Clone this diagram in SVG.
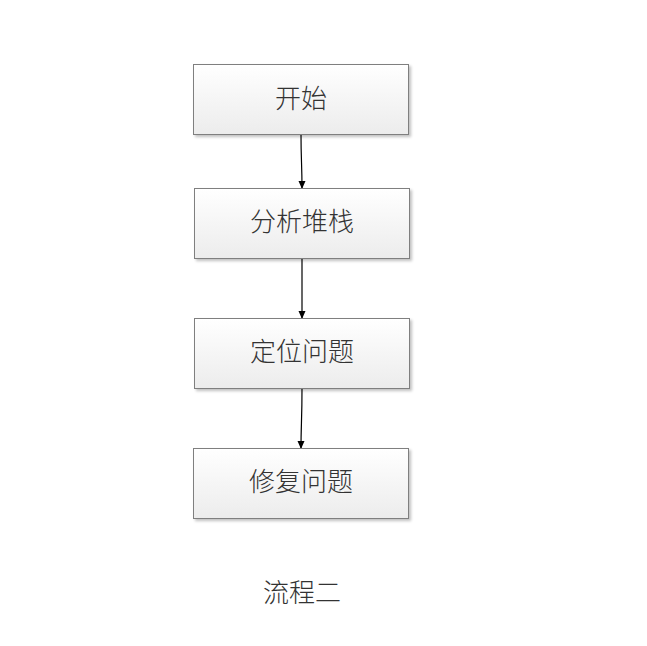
<svg xmlns="http://www.w3.org/2000/svg" width="647" height="646" viewBox="0 0 647 646">
<defs>
<linearGradient id="g" x1="0" y1="0" x2="0" y2="1">
<stop offset="0" stop-color="#ffffff"/>
<stop offset="1" stop-color="#ececec"/>
</linearGradient>
<filter id="sh" x="-5%" y="-10%" width="115%" height="130%">
<feGaussianBlur in="SourceAlpha" stdDeviation="1.5"/>
<feOffset dx="2" dy="2" result="b"/>
<feComponentTransfer><feFuncA type="linear" slope="0.25"/></feComponentTransfer>
<feMerge><feMergeNode/><feMergeNode in="SourceGraphic"/></feMerge>
</filter>
<marker id="ah" markerWidth="8" markerHeight="8" refX="7" refY="4" orient="auto" markerUnits="userSpaceOnUse">
<path d="M0,0.5 L8,4 L0,7.5 Z" fill="#000"/>
</marker>
</defs>
<style>
.box{fill:url(#g);stroke:#7f7f7f;stroke-width:1;filter:url(#sh)}
.t{font-family:"Noto Sans CJK SC","Noto Sans CJK JP",sans-serif;font-size:26px;font-weight:300;fill:#333;text-anchor:middle;dominant-baseline:central}
.c{fill:none;stroke:#000;stroke-width:1.2;marker-end:url(#ah)}
</style>
<rect width="647" height="646" fill="#fff"/>
<g id="connectors">
<path class="c" d="M301,134 C301,160 302,165 302,188"/>
<path class="c" d="M302,258 L302,318"/>
<path class="c" d="M302,388 C302,420 301,425 301,448"/>
</g>
<g id="n1"><rect class="box" x="193.5" y="64.5" width="215" height="70"/><text class="t" x="301" y="96">开始</text></g>
<g id="n2"><rect class="box" x="194.5" y="188.5" width="215" height="70"/><text class="t" x="302" y="219">分析堆栈</text></g>
<g id="n3"><rect class="box" x="194.5" y="318.5" width="215" height="70"/><text class="t" x="302" y="349">定位问题</text></g>
<g id="n4"><rect class="box" x="193.5" y="448.5" width="215" height="70"/><text class="t" x="301" y="479">修复问题</text></g>
<text class="t" x="302" y="590">流程二</text>
</svg>
